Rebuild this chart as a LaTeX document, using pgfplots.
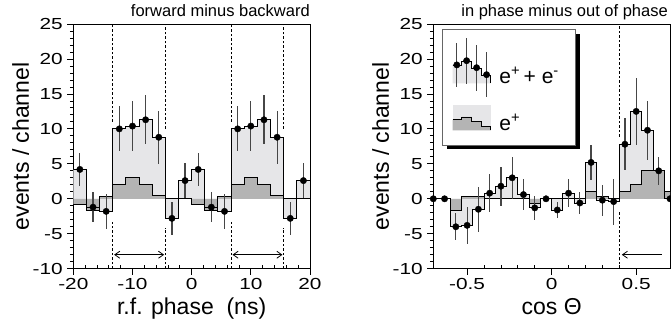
\documentclass[border=0pt]{standalone}
\usepackage{pgfplots}
\pgfplotsset{compat=1.18}
\usepackage{pgfplotstable}
\usepackage{fontspec}
\setmainfont{Liberation Sans}
\usetikzlibrary{arrows.meta}
\definecolor{lightf}{RGB}{230,230,232}
\definecolor{darkf}{RGB}{180,180,180}
\definecolor{errc}{RGB}{70,70,70}

% left panel: bin edges, e+ + e- , e+
\pgfplotstableread{
x y p
-20 4.2 -0.8
-17.778 -1.2 -1.6
-15.556 -1.8 0.3
-13.333 10.0 2.0
-11.111 10.4 3.0
-8.889 11.3 2.0
-6.667 8.8 0.5
-4.444 -2.8 0
-2.222 2.6 0
0 4.2 -0.8
2.222 -1.2 -1.6
4.444 -1.8 0.3
6.667 10.0 2.0
8.889 10.4 3.0
11.111 11.3 2.0
13.333 8.8 0.5
15.556 -2.8 0
17.778 2.6 0
20 2.6 0
}\lefthist
\pgfplotstableread{
c y e
-18.889 4.2 2.3
-16.667 -1.2 2.1
-14.444 -1.8 2.5
-12.222 10.0 3.2
-10.0 10.4 3.6
-7.778 11.3 3.5
-5.556 8.8 3.8
-3.333 -2.8 2.4
-1.111 2.6 2.5
1.111 4.2 2.3
3.333 -1.2 2.1
5.556 -1.8 2.5
7.778 10.0 3.2
10.0 10.4 3.6
12.222 11.3 3.5
14.444 8.8 3.8
16.667 -2.8 2.4
18.889 2.6 2.5
}\leftpts

% right panel
\pgfplotstableread{
x y p
-0.7333 0 0
-0.6667 0 0
-0.6 -4.0 -1.6
-0.5333 -3.8 0.3
-0.4667 -1.5 0.3
-0.4 0.8 0
-0.3333 1.8 0
-0.2667 3.0 0.1
-0.2 0.6 0.1
-0.1333 -1.3 -0.7
-0.0667 0 0
0 -1.6 0
0.0667 0.8 0
0.1333 -0.6 0
0.2 5.2 1.0
0.2667 -0.2 0.3
0.3333 -0.4 0
0.4 7.8 1.0
0.4667 12.5 2.1
0.5333 9.8 4.0
0.6 4.0 4.0
0.6667 0 1.0
0.7333 0 1.0
}\righthist
\pgfplotstableread{
c y e
-0.7 0 0
-0.6333 0 0
-0.5667 -4.0 1.9
-0.5 -3.8 2.6
-0.4333 -1.5 3.2
-0.3667 0.8 2.7
-0.3 1.8 2.8
-0.2333 3.0 3.0
-0.1667 0.6 2.2
-0.1 -1.3 1.7
-0.0333 0 0
0.0333 -1.6 1.1
0.1 0.8 2.0
0.1667 -0.6 1.6
0.2333 5.2 2.5
0.3 -0.2 2.2
0.3667 -0.4 3.3
0.4333 7.8 3.7
0.5 12.5 4.8
0.5667 9.8 4.2
0.6333 4.0 2.0
0.7 0 0
}\rightpts

\tikzset{
  dsh/.style={line width=1pt, dash pattern=on 2.5pt off 2pt},
  arr/.style={line width=0.8pt},
}
\newcommand\titlefont{\fontsize{16.5}{16.5}\selectfont}
\pgfplotsset{
  every axis title shift=0pt,
  panel/.style={
    scale only axis, width=236.7pt, height=244.7pt,
    ymin=-10, ymax=25, ytick={-10,-5,...,25}, minor y tick num=4,
    xtick pos=bottom, ytick pos=left, tick align=outside,
    major tick length=6pt, minor tick length=3.5pt,
    every tick/.style={black, line width=0.8pt},
    minor x tick style={yshift=3.5pt},
    axis line style={line width=0.9pt},
    /pgf/number format/assume math mode=true,
    tick label style={font=\fontsize{16}{16}\selectfont, xscale=1.3},
    label style={font=\fontsize{23}{23}\selectfont},
    ylabel style={at={(axis description cs:-0.222,0.5)}, anchor=center},
    xlabel style={at={(axis description cs:0.5,0)}, anchor=base, yshift=-45.3pt, inner sep=0pt},
    title style={at={(axis description cs:1,1)}, anchor=base east, yshift=7pt, inner sep=0pt,
      font=\titlefont},
  },
  hfill/.style={const plot, fill=lightf, draw=none},
  dfill/.style={const plot, fill=darkf, draw=none},
  hline/.style={const plot, black, line width=0.9pt},
  pts/.style={only marks, mark=*, mark size=3.2pt, black,
    error bars/.cd, y dir=both, y explicit, error mark=none,
    error bar style={line width=1.2pt, errc}},
}

\begin{document}
\begin{tikzpicture}

\begin{axis}[panel, at={(0pt,0pt)}, anchor=south west,
  xmin=-20, xmax=20, xtick={-20,-10,0,10,20}, minor x tick num=4,
  xlabel={r.f. phase\ \ (ns)}, ylabel={events / channel},
  title={\titlefont forward minus backward}]
\addplot[hfill] table[x=x,y=y]{\lefthist} \closedcycle;
\addplot[dfill] table[x=x,y=p]{\lefthist} \closedcycle;
\addplot[hline] table[x=x,y=p]{\lefthist};
\addplot[hline] table[x=x,y=y]{\lefthist};
\addplot[pts] table[x=c,y=y,y error=e]{\leftpts};
\draw[dsh] (axis cs:-13.333,11) -- (axis cs:-13.333,25);
\draw[dsh] (axis cs:-13.333,-10) -- (axis cs:-13.333,-3.3);
\draw[dsh] (axis cs:-4.444,10) -- (axis cs:-4.444,25);
\draw[dsh] (axis cs:-4.444,-10) -- (axis cs:-4.444,-4.2);
\draw[dsh] (axis cs:6.667,11) -- (axis cs:6.667,25);
\draw[dsh] (axis cs:6.667,-10) -- (axis cs:6.667,-3.3);
\draw[dsh] (axis cs:15.556,10) -- (axis cs:15.556,25);
\draw[dsh] (axis cs:15.556,-10) -- (axis cs:15.556,-4.2);
\draw[arr, {Straight Barb[length=5pt,width=7pt]}-{Straight Barb[length=5pt,width=7pt]}] (axis cs:-13.1,-8) -- (axis cs:-4.65,-8);
\draw[arr, {Straight Barb[length=5pt,width=7pt]}-{Straight Barb[length=5pt,width=7pt]}] (axis cs:6.9,-8) -- (axis cs:15.35,-8);
\end{axis}

\begin{axis}[panel, at={(360pt,0pt)}, anchor=south west,
  xmin=-0.7, xmax=0.7, xtick={-0.5,0,0.5}, minor x tick num=4,
  xlabel={cos Θ}, ylabel={events / channel},
  title={\titlefont in phase minus out of phase}, title style={xshift=-2pt}]
\addplot[hfill] table[x=x,y=y]{\righthist} \closedcycle;
\addplot[dfill] table[x=x,y=p]{\righthist} \closedcycle;
\addplot[hline] table[x=x,y=p]{\righthist};
\addplot[hline] table[x=x,y=y]{\righthist};
\addplot[pts] table[x=c,y=y,y error=e]{\rightpts};
\draw[dsh] (axis cs:0.4,8.9) -- (axis cs:0.4,25);
\draw[dsh] (axis cs:0.4,-10) -- (axis cs:0.4,-1.9);
\draw[arr, {Straight Barb[length=5pt,width=7pt]}-] (axis cs:0.415,-8) -- (axis cs:0.65,-8);
% legend box with shadow
\fill[black] (axis cs:-0.620,7.1) rectangle (axis cs:0.1668,23.63);
\draw[fill=white, draw=black!60, line width=0.8pt] (axis cs:-0.6436,7.67) rectangle (axis cs:0.1433,24.2);
% legend sample 1 (e+ + e-)
\addplot[fill=lightf, draw=none] coordinates {(-0.585,16.5) (-0.585,19.1) (-0.531,19.1) (-0.531,19.7) (-0.473,19.7) (-0.473,18.7) (-0.414,18.7) (-0.414,17.7) (-0.36,17.7) (-0.36,16.5)};
\addplot[hline] coordinates {(-0.585,19.1) (-0.531,19.7) (-0.473,18.7) (-0.414,17.7) (-0.36,17.7) (-0.36,16.6)};
\addplot[pts] coordinates {(-0.561,19.15) +- (0,3.2) (-0.503,19.75) +- (0,3.3) (-0.444,18.75) +- (0,3.3) (-0.385,17.75) +- (0,3.2)};
% legend sample 2 (e+)
\addplot[fill=lightf, draw=none] coordinates {(-0.585,9.8) (-0.585,13.4) (-0.36,13.4) (-0.36,9.8)};
\addplot[fill=darkf, draw=none] coordinates {(-0.585,9.8) (-0.585,11.3) (-0.531,11.3) (-0.531,11.7) (-0.473,11.7) (-0.473,11.0) (-0.414,11.0) (-0.414,10.4) (-0.36,10.4) (-0.36,9.8)};
\addplot[hline] coordinates {(-0.585,11.3) (-0.531,11.7) (-0.473,11.0) (-0.414,10.4) (-0.36,10.4) (-0.36,9.9)};
\node[anchor=base west, inner sep=0pt, font=\fontsize{21}{21}\selectfont] at (axis cs:-0.31,16.5) {e\textsuperscript{+}\,+\ e\textsuperscript{-}};
\node[anchor=base west, inner sep=0pt, font=\fontsize{21}{21}\selectfont] at (axis cs:-0.31,9.8) {e\textsuperscript{+}};
\end{axis}
\pgfresetboundingbox
\path[use as bounding box] (-73.3pt,-63.3pt) rectangle (597.7pt,268.7pt);
\end{tikzpicture}
\end{document}
